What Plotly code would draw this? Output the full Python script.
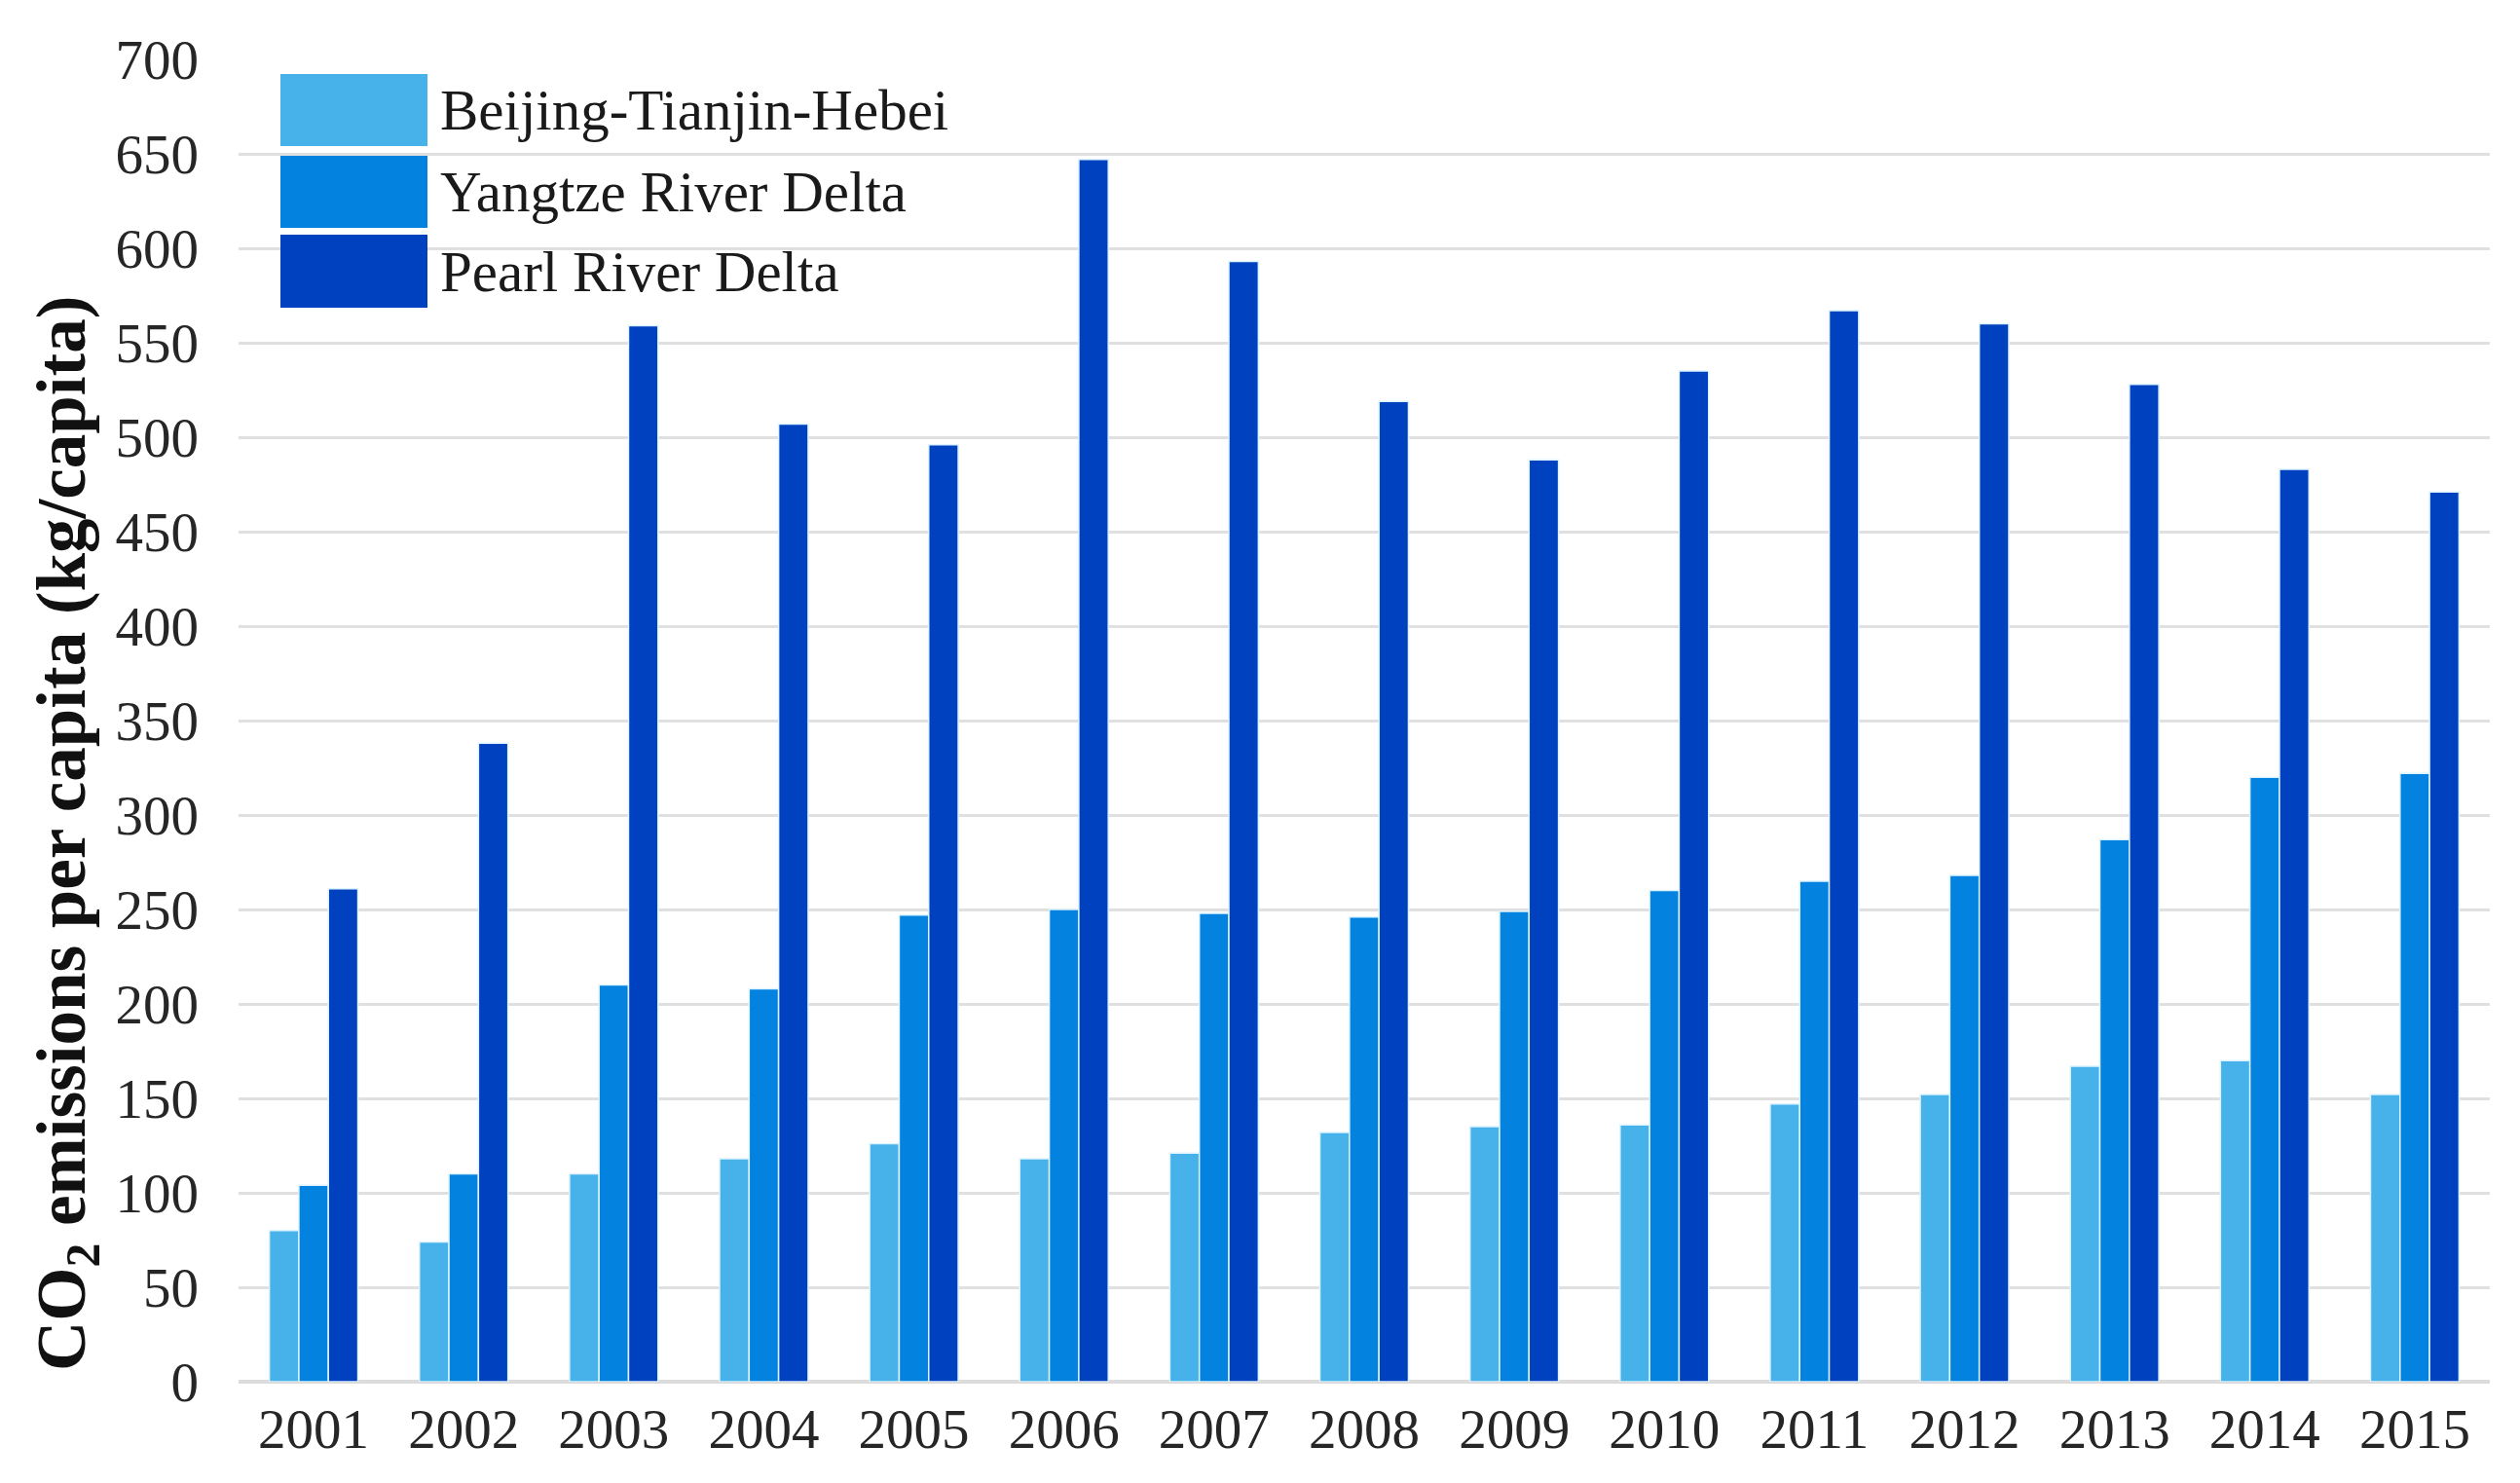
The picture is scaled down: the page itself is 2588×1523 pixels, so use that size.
import plotly.graph_objects as go

years = ["2001", "2002", "2003", "2004", "2005", "2006", "2007", "2008",
         "2009", "2010", "2011", "2012", "2013", "2014", "2015"]
bth = [80, 74, 110, 118, 126, 118, 121, 132, 135, 136, 147, 152, 167, 170, 152]
yrd = [104, 110, 210, 208, 247, 250, 248, 246, 249, 260, 265, 268, 287, 320, 322]
prd = [261, 338, 559, 507, 496, 647, 593, 519, 488, 535, 567, 560, 528, 483, 471]
series_names = ["Beijing-Tianjin-Hebei", "Yangtze River Delta", "Pearl River Delta"]
colors = ["#47B2EA", "#0383DF", "#0041C0"]
y_ticks = list(range(0, 701, 50))

# page body offset of 8 px is compensated in the figure size
W, H = 2580, 1515
L, R, T, B = 237, 31, 53, 104
pw, ph = W - L - R, H - T - B
OFF = 8

def px_x(x):
    return (x - OFF - L) / pw

def px_y(y):
    return 1 - (y - OFF - T) / ph

FONT = "Liberation Serif"

fig = go.Figure()
for name, vals, col in zip(series_names, [bth, yrd, prd], colors):
    fig.add_trace(go.Bar(
        x=years, y=vals, name=name,
        marker=dict(color=col, line=dict(color="#DDF3FF", width=1.5)),
        showlegend=False,
    ))

# custom legend with large swatches
leg_rows = [(76, 150), (160, 234), (241, 316)]
for (y0, y1), name, col in zip(leg_rows, series_names, colors):
    fig.add_shape(type="rect", xref="paper", yref="paper",
                  x0=px_x(288), x1=px_x(439), y0=px_y(y1), y1=px_y(y0),
                  fillcolor=col, line=dict(width=0), layer="above")
    fig.add_annotation(xref="paper", yref="paper", x=px_x(450),
                       y=px_y((y0 + y1) / 2), text=name, showarrow=False,
                       xanchor="left", yanchor="middle",
                       font=dict(family=FONT, size=59, color="#1a1a1a"))

fig.add_annotation(xref="paper", yref="paper", x=px_x(68), y=px_y(856),
                   text="CO<sub>2</sub> emissions per capita (kg/capita)",
                   textangle=-90, showarrow=False, xanchor="center", yanchor="middle",
                   font=dict(family=FONT, size=71, color="#111111", weight="bold"))

fig.update_layout(
    width=W, height=H,
    margin=dict(l=L, r=R, t=T, b=B, pad=0),
    paper_bgcolor="white", plot_bgcolor="white",
    barmode="group", bargap=0.41, bargroupgap=0,
    font=dict(family=FONT, size=56, color="#262626"),
    xaxis=dict(showgrid=False, showline=False, ticks="", tickfont=dict(size=57),
               ticklabelstandoff=10),
    yaxis=dict(range=[0, 700], tickvals=y_ticks, showgrid=True,
               gridcolor="#E0E0E0", gridwidth=3, zeroline=True,
               zerolinecolor="#DCDCDC", zerolinewidth=4, showline=False,
               ticks="", tickfont=dict(size=57), ticklabelstandoff=40),
)

fig.write_html("out.html")
